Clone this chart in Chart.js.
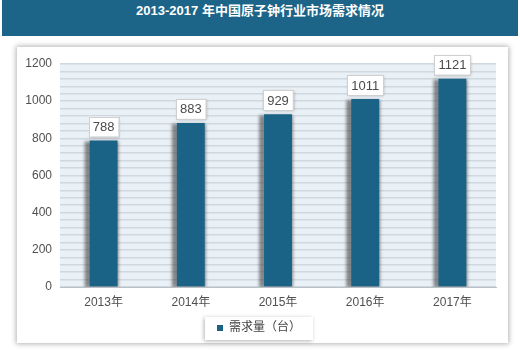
<!DOCTYPE html>
<html>
<head>
<meta charset="utf-8">
<script src="https://cdn.jsdelivr.net/npm/chart.js@4"></script>
<style>
  body { margin: 0; background: #fff; width: 520px; height: 350px; overflow: hidden; position: relative; }
  #title {
    position: absolute; left: 2px; top: 0; width: 516px; height: 36px;
    background: #1c6588; color: #fff; text-align: center; line-height: 33px;
    font: bold 13px "Liberation Sans", "Noto Sans CJK SC", sans-serif;
  }
  #panel {
    position: absolute; left: 17px; top: 47px; width: 491px; height: 296px;
    background: #fff; box-shadow: 0 0 5px 1px rgba(0,0,0,0.3);
  }
  #wrap { position: absolute; left: 0; top: 0; width: 520px; height: 350px; }
</style>
</head>
<body>
<div id="title">2013-2017 年中国原子钟行业市场需求情况</div>
<div id="panel"></div>
<div id="wrap"><canvas id="chart" width="520" height="350"></canvas></div>
<script>
const barColor = '#1a6386';
const textColor = '#505050';

const years = ['2013年', '2014年', '2015年', '2016年', '2017年'];
const demand = [788, 883, 929, 1011, 1121];
const seriesName = '需求量（台）';
const yMax = 1200;
const yLabelStep = 200;
const yGridStep = 40;

const fontFamily = '"Liberation Sans", "Noto Sans CJK SC", sans-serif';

// plot background and the little white box behind the legend
const backdrop = {
    id: 'backdrop',
    beforeDraw: (chart) => {
        let ctx = chart.ctx;
        let a = chart.chartArea;
        ctx.save();
        ctx.fillStyle = '#e9f0f6';
        ctx.fillRect(a.left, a.top, a.right - a.left, a.bottom - a.top);
        let lg = chart.legend;
        if (lg && lg.legendHitBoxes && lg.legendHitBoxes.length) {
            let hb = lg.legendHitBoxes[0];
            let cy = hb.top + hb.height / 2;
            ctx.shadowColor = 'rgba(0,0,0,0.3)';
            ctx.shadowBlur = 4;
            ctx.shadowOffsetX = -1;
            ctx.shadowOffsetY = 1;
            ctx.fillStyle = '#fff';
            ctx.fillRect(hb.left - 12, cy - 11, hb.width + 24, 23);
        }
        ctx.restore();
    }
};

// gray shadow to the left of each bar
const barShadow = {
    id: 'barShadow',
    beforeDatasetsDraw: (chart) => {
        let ctx = chart.ctx;
        let a = chart.chartArea;
        ctx.save();
        ctx.beginPath();
        ctx.rect(a.left, a.top, a.right - a.left, a.bottom - a.top);
        ctx.clip();
        ctx.filter = 'blur(1.5px)';
        ctx.fillStyle = 'rgba(50,50,50,0.55)';
        chart.getDatasetMeta(0).data.forEach(bar => {
            let p = bar.getProps(['x', 'y', 'base', 'width'], true);
            ctx.fillRect(p.x - p.width / 2 - 5, p.y + 1, p.width + 6, p.base - p.y);
        });
        ctx.restore();
    }
};

// value boxes above the bars
const valueBoxes = {
    id: 'valueBoxes',
    afterDatasetsDraw: (chart) => {
        let ctx = chart.ctx;
        let meta = chart.getDatasetMeta(0);
        ctx.save();
        ctx.font = '13px ' + fontFamily;
        ctx.textAlign = 'center';
        ctx.textBaseline = 'middle';
        meta.data.forEach((bar, i) => {
            let txt = String(demand[i]);
            let w = ctx.measureText(txt).width + 8;
            let h = 20;
            let x = bar.x - w / 2;
            let y = bar.y - 4 - h;
            ctx.save();
            ctx.shadowColor = 'rgba(0,0,0,0.3)';
            ctx.shadowBlur = 3;
            ctx.shadowOffsetX = 1;
            ctx.shadowOffsetY = 1;
            ctx.fillStyle = '#fff';
            ctx.fillRect(x, y, w, h);
            ctx.restore();
            ctx.strokeStyle = '#d0d0d0';
            ctx.lineWidth = 1;
            ctx.strokeRect(Math.round(x) + 0.5, Math.round(y) + 0.5, Math.round(w), h);
            ctx.fillStyle = '#4a4a4a';
            ctx.fillText(txt, bar.x, y + h / 2 + 1);
        });
        ctx.restore();
    }
};

new Chart(document.getElementById('chart'), {
    type: 'bar',
    data: {
        labels: years,
        datasets: [{
            label: seriesName,
            data: demand,
            backgroundColor: barColor,
            borderWidth: 0,
            categoryPercentage: 1,
            barPercentage: 0.32
        }]
    },
    options: {
        responsive: false,
        animation: false,
        layout: { padding: { left: 22, right: 24, top: 64, bottom: 6 } },
        scales: {
            x: {
                grid: { display: false, drawTicks: false },
                border: { color: '#b8c0c8', width: 1 },
                ticks: { color: textColor, padding: 8, font: { size: 12, family: fontFamily } },
                afterFit: (s) => { s.height = 25; }
            },
            y: {
                min: 0,
                max: yMax,
                grid: { color: '#d0d8df', lineWidth: 1.5, drawTicks: false },
                border: { display: false },
                ticks: {
                    stepSize: yGridStep,
                    autoSkip: false,
                    padding: 8,
                    color: textColor,
                    font: { size: 12, family: fontFamily },
                    callback: (v) => v % yLabelStep === 0 ? v : ''
                },
                afterFit: (s) => { s.width = 38; }
            }
        },
        plugins: {
            legend: {
                position: 'bottom',
                labels: {
                    boxWidth: 6,
                    boxHeight: 6,
                    padding: 10,
                    color: '#444',
                    font: { size: 12, family: fontFamily }
                }
            },
            tooltip: { enabled: false }
        }
    },
    plugins: [backdrop, barShadow, valueBoxes]
});
</script>
</body>
</html>
